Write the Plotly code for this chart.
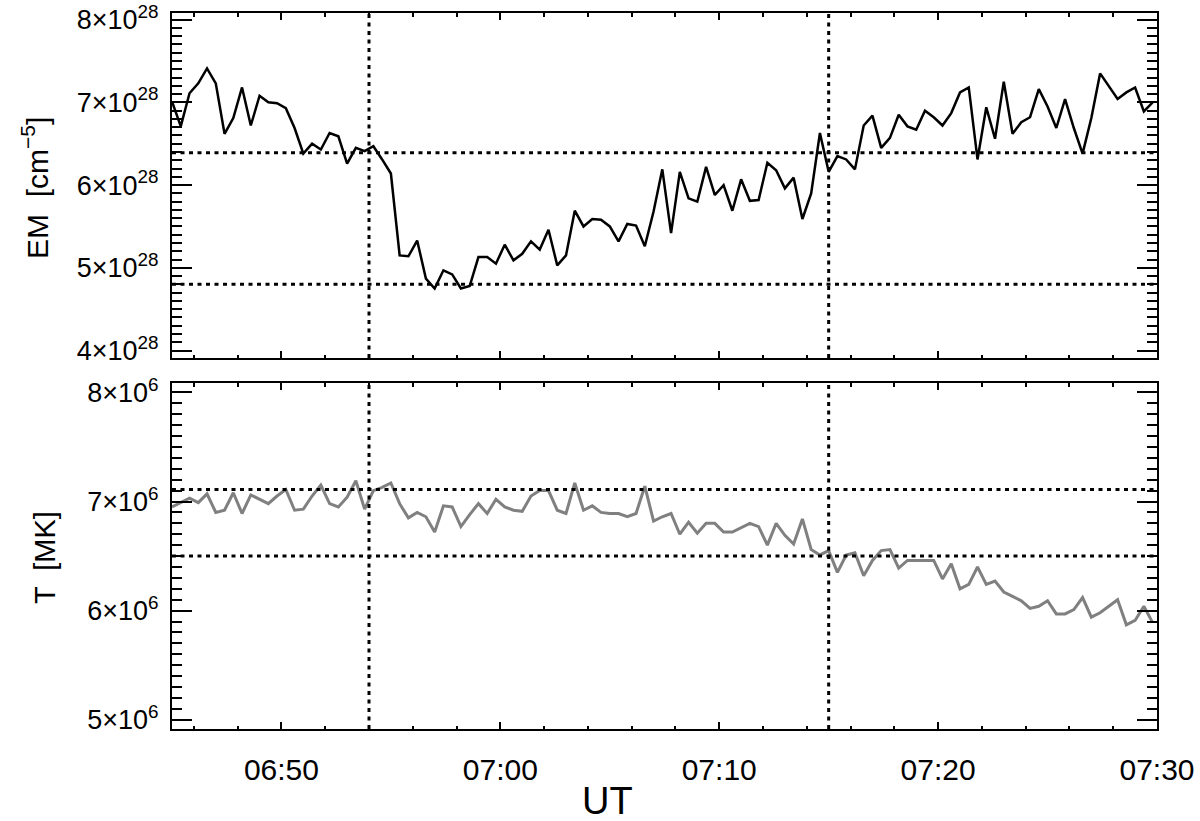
import pandas as pd
import plotly.graph_objects as go
from plotly.subplots import make_subplots

# time axis: one sample every 24 s starting 06:45 UT
t_start = "2012-01-01 06:45:00"
cadence = "24s"
x_range = ["2012-01-01 06:45:00", "2012-01-01 07:30:00"]

# emission measure, units of 1e28 cm^-5
em = [7.01, 6.71, 7.11, 7.23, 7.41, 7.23, 6.62, 6.81, 7.18, 6.72,
      7.08, 7.00, 6.99, 6.93, 6.69, 6.38, 6.50, 6.43, 6.63, 6.59,
      6.26, 6.45, 6.41, 6.47, 6.31, 6.14, 5.15, 5.14, 5.33, 4.87,
      4.75, 4.97, 4.92, 4.75, 4.78, 5.13, 5.13, 5.05, 5.28, 5.09,
      5.17, 5.32, 5.22, 5.46, 5.03, 5.15, 5.69, 5.50, 5.59, 5.58,
      5.50, 5.32, 5.53, 5.51, 5.26, 5.68, 6.19, 5.42, 6.16, 5.84,
      5.80, 6.22, 5.88, 6.00, 5.69, 6.07, 5.81, 5.82, 6.27, 6.18,
      5.96, 6.09, 5.59, 5.90, 6.63, 6.16, 6.35, 6.31, 6.19, 6.72,
      6.84, 6.45, 6.57, 6.85, 6.71, 6.67, 6.90, 6.82, 6.72, 6.87,
      7.12, 7.18, 6.31, 6.94, 6.56, 7.25, 6.62, 6.76, 6.82, 7.16,
      6.95, 6.69, 7.04, 6.69, 6.38, 6.81, 7.35, 7.19, 7.04, 7.12,
      7.18, 6.89, 7.00]

# temperature, units of 1e6 K
temp = [6.95, 6.99, 7.03, 6.99, 7.07, 6.90, 6.92, 7.08, 6.89, 7.06,
        7.02, 6.98, 7.05, 7.11, 6.92, 6.93, 7.05, 7.15, 6.98, 6.95,
        7.04, 7.19, 6.93, 7.10, 7.13, 7.17, 6.98, 6.85, 6.90, 6.86,
        6.72, 6.96, 6.95, 6.77, 6.88, 6.98, 6.89, 7.02, 6.95, 6.92,
        6.91, 7.05, 7.10, 7.10, 6.92, 6.89, 7.17, 6.92, 6.96, 6.90,
        6.89, 6.89, 6.86, 6.89, 7.14, 6.82, 6.86, 6.89, 6.70, 6.81,
        6.71, 6.80, 6.80, 6.72, 6.72, 6.76, 6.80, 6.77, 6.60, 6.80,
        6.69, 6.61, 6.84, 6.56, 6.51, 6.55, 6.35, 6.51, 6.53, 6.32,
        6.46, 6.55, 6.56, 6.39, 6.46, 6.46, 6.46, 6.46, 6.29, 6.43,
        6.20, 6.24, 6.40, 6.24, 6.27, 6.17, 6.13, 6.09, 6.02, 6.04,
        6.09, 5.97, 5.97, 6.01, 6.12, 5.94, 5.98, 6.04, 6.10, 5.87,
        5.91, 6.04, 5.89]

em_levels = [6.39, 4.80]
temp_levels = [7.11, 6.50]
event_times = ["2012-01-01 06:54:00", "2012-01-01 07:15:00"]

em_ticks = [4, 5, 6, 7, 8]
temp_ticks = [5, 6, 7, 8]
em_range = [3.91, 8.08]
temp_range = [4.915, 8.086]

times = pd.date_range(t_start, periods=len(em), freq=cadence)
em_vals = [v * 1e28 for v in em]
temp_vals = [v * 1e6 for v in temp]

FONT = "Liberation Sans, Arial, sans-serif"
W, H = 1200, 821
ML, MR, MT, MB = 172, 43, 13, 92
PW, PH = W - ML - MR, H - MT - MB


def paper_x(px):
    return (px - ML) / PW


def paper_y(py):
    return (H - MB - py) / PH


fig = make_subplots(rows=2, cols=1, shared_xaxes=True)
fig.add_trace(go.Scatter(x=times, y=em_vals, mode="lines",
                         line=dict(color="black", width=2.5)), row=1, col=1)
fig.add_trace(go.Scatter(x=times, y=temp_vals, mode="lines",
                         line=dict(color="#808080", width=3)), row=2, col=1)

dot = dict(color="black", width=3, dash="4px,4.5px")
for lv in em_levels:
    fig.add_shape(type="line", xref="x domain", yref="y", x0=0, x1=1,
                  y0=lv * 1e28, y1=lv * 1e28, line=dot)
for lv in temp_levels:
    fig.add_shape(type="line", xref="x2 domain", yref="y2", x0=0, x1=1,
                  y0=lv * 1e6, y1=lv * 1e6, line=dot)
for tm in event_times:
    fig.add_shape(type="line", xref="x", yref="y domain", x0=tm, x1=tm,
                  y0=0, y1=1, line=dot)
    fig.add_shape(type="line", xref="x2", yref="y2 domain", x0=tm, x1=tm,
                  y0=0, y1=1, line=dot)

xax = dict(
    type="date", range=x_range, showgrid=False, zeroline=False,
    automargin=False, ticklabeloverflow="allow",
    showline=True, linecolor="black", linewidth=2, mirror="ticks",
    ticks="inside", ticklen=7, tickwidth=2, tickcolor="black",
    tickmode="linear", tick0="2012-01-01 06:50:00", dtick=600000,
    tickformat="%H:%M",
    minor=dict(ticks="inside", ticklen=3.5, tickwidth=2, tickcolor="black",
               tickmode="linear", tick0="2012-01-01 06:50:00", dtick=120000,
               showgrid=False),
    tickfont=dict(family=FONT, size=30, color="black"),
)
fig.update_xaxes(**xax)
fig.update_xaxes(showticklabels=False, row=1, col=1)
fig.update_xaxes(showticklabels=True, ticklabelstandoff=13, row=2, col=1)

yax = dict(
    showgrid=False, zeroline=False, automargin=False, ticklabeloverflow="allow",
    showline=True, linecolor="black",
    linewidth=2, mirror="ticks", ticks="inside", ticklen=20, tickwidth=2,
    tickcolor="black", tickmode="array", ticklabelstandoff=6,
    tickfont=dict(family=FONT, size=27, color="black"),
)
fig.update_yaxes(
    **yax, domain=[paper_y(358), 1], range=[v * 1e28 for v in em_range],
    tickvals=[v * 1e28 for v in em_ticks],
    ticktext=[f"{v}\u00d710<sup>28</sup>" for v in em_ticks],
    minor=dict(ticks="inside", ticklen=10, tickwidth=2, tickcolor="black",
               tickmode="linear", tick0=4e28, dtick=1e27, showgrid=False),
    row=1, col=1)
fig.update_yaxes(
    **yax, domain=[0, paper_y(383)], range=[v * 1e6 for v in temp_range],
    tickvals=[v * 1e6 for v in temp_ticks],
    ticktext=[f"{v}\u00d710<sup>6</sup>" for v in temp_ticks],
    minor=dict(ticks="inside", ticklen=10, tickwidth=2, tickcolor="black",
               tickmode="linear", tick0=5e6, dtick=1e5, showgrid=False),
    row=2, col=1)

fig.add_annotation(text="UT", xref="paper", yref="paper",
                   x=paper_x(607), y=paper_y(801), showarrow=False,
                   xanchor="center", yanchor="middle",
                   font=dict(family=FONT, size=38, color="black"))
fig.add_annotation(text="EM  [cm<sup>\u22125</sup>]", xref="paper", yref="paper",
                   x=paper_x(35), y=paper_y(188), textangle=-90, showarrow=False,
                   xanchor="center", yanchor="middle",
                   font=dict(family=FONT, size=30, color="black"))
fig.add_annotation(text="T  [MK]", xref="paper", yref="paper",
                   x=paper_x(45), y=paper_y(558), textangle=-90, showarrow=False,
                   xanchor="center", yanchor="middle",
                   font=dict(family=FONT, size=29, color="black"))

fig.update_layout(
    width=W, height=H, showlegend=False,
    margin=dict(l=ML, r=MR, t=MT, b=MB),
    plot_bgcolor="white", paper_bgcolor="white",
)

fig.write_html("out.html", config={"displayModeBar": False},
               post_script="document.body.style.margin='0';")
